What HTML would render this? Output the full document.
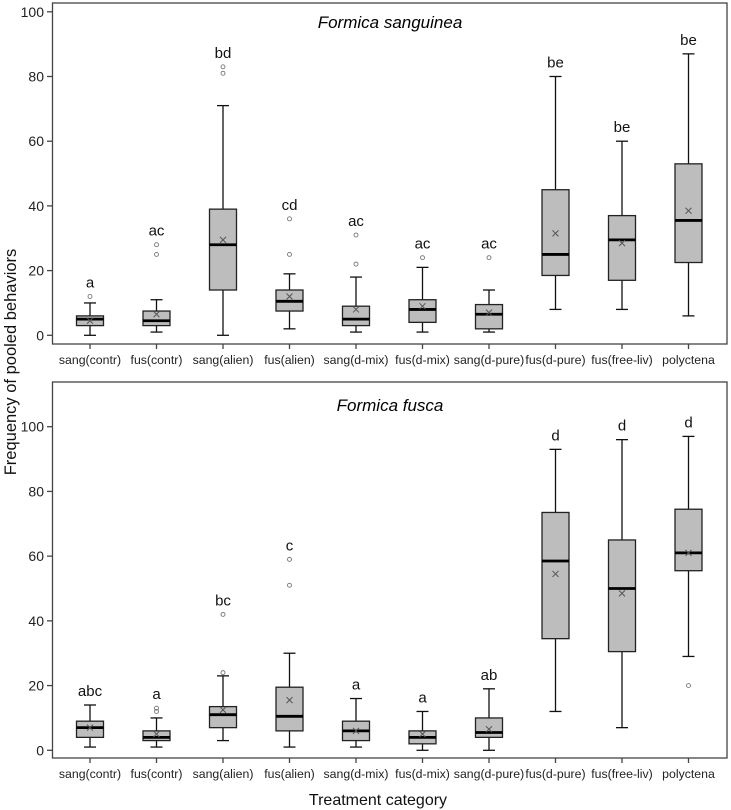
<!DOCTYPE html>
<html><head><meta charset="utf-8"><style>
body{margin:0;background:#fff;}
svg{display:block;font-family:"Liberation Sans",Arial,sans-serif;}
</style></head><body>
<svg id="chart" width="731" height="810"></svg>
<script>
const categories=["sang(contr)","fus(contr)","sang(alien)","fus(alien)","sang(d-mix)","fus(d-mix)","sang(d-pure)","fus(d-pure)","fus(free-liv)","polyctena"];
const yTicks=[0,20,40,60,80,100];
// top panel: Formica sanguinea
const sangMin=[0,1,0,2,1,1,1,8,8,6];
const sangQ1=[3,3,14,7.5,3,4,2,18.5,17,22.5];
const sangMed=[5,4.5,28,10.5,5,8,6.5,25,29.5,35.5];
const sangQ3=[6,7.5,39,14,9,11,9.5,45,37,53];
const sangMax=[10,11,71,19,18,21,14,80,60,87];
const sangMean=[4.5,6.5,29.5,12,8,9,7,31.5,28.5,38.5];
const sangOut=[[12],[25,28],[81,83],[25,36],[22,31],[24],[24],[],[],[]];
const sangLetters=["a","ac","bd","cd","ac","ac","ac","be","be","be"];
// bottom panel: Formica fusca
const fuscMin=[1,1,3,1,1,0,0,12,7,29];
const fuscQ1=[4,3,7,6,3,2,4,34.5,30.5,55.5];
const fuscMed=[7,4,11,10.5,6,4,5.5,58.5,50,61];
const fuscQ3=[9,6,13.5,19.5,9,6,10,73.5,65,74.5];
const fuscMax=[14,10,23,30,16,12,19,93,96,97];
const fuscMean=[7,5,12.5,15.5,6,5,6.5,54.5,48.5,61];
const fuscOut=[[],[12,13],[24,42],[51,59],[],[],[],[],[],[20]];
const fuscLetters=["abc","a","bc","c","a","a","ab","d","d","d"];

const svg=document.getElementById('chart');
const NS="http://www.w3.org/2000/svg";
function mk(tag,attrs,parent){const e=document.createElementNS(NS,tag);for(const k in attrs)e.setAttribute(k,attrs[k]);(parent||svg).appendChild(e);return e;}
const xScale=i=>90+i*66.5;
const BW=27;

function panel(p){
  const g=mk('g',{});
  
  
  const y=v=>p.y0-v*p.k;
  const fr=mk('rect',{x:52.5,y:p.top,width:674.5,height:p.bottom-p.top,fill:'none',stroke:'#444','stroke-width':1.3},g);
  
  
  yTicks.forEach(t=>{
    mk('line',{x1:47,x2:52.5,y1:y(t),y2:y(t),stroke:'#444','stroke-width':1.3},g);
    const tx=mk('text',{x:44,y:y(t)+5,'text-anchor':'end','font-size':14,fill:'#222'},g);
    tx.textContent=t;
    
    
  });
  categories.forEach((c,i)=>{
    const x=xScale(i);
    mk('line',{x1:x,x2:x,y1:p.bottom,y2:p.bottom+5,stroke:'#444','stroke-width':1.3},g);
    const tl=mk('text',{x:x,y:p.bottom+20,'text-anchor':'middle','font-size':12.3,fill:'#222'},g);
    tl.textContent=c;
    
    
    const bx=mk('g',{},g);
    
    
    mk('line',{x1:x,x2:x,y1:y(p.max[i]),y2:y(p.q3[i]),stroke:'#111','stroke-width':1.3},bx);
    mk('line',{x1:x,x2:x,y1:y(p.q1[i]),y2:y(p.min[i]),stroke:'#111','stroke-width':1.3},bx);
    mk('line',{x1:x-6,x2:x+6,y1:y(p.max[i]),y2:y(p.max[i]),stroke:'#111','stroke-width':1.3},bx);
    mk('line',{x1:x-6,x2:x+6,y1:y(p.min[i]),y2:y(p.min[i]),stroke:'#111','stroke-width':1.3},bx);
    mk('rect',{x:x-BW/2,y:y(p.q3[i]),width:BW,height:y(p.q1[i])-y(p.q3[i]),fill:'#bdbdbd',stroke:'#222','stroke-width':1.3},bx);
    mk('line',{x1:x-BW/2,x2:x+BW/2,y1:y(p.med[i]),y2:y(p.med[i]),stroke:'#000','stroke-width':2.8},bx);
    const my=y(p.mean[i]);
    mk('path',{d:`M${x-3},${my-3}L${x+3},${my+3}M${x-3},${my+3}L${x+3},${my-3}`,stroke:'#555','stroke-width':1},bx);
    p.out[i].forEach(o=>{
      const oc=mk('circle',{cx:x,cy:y(o),r:2,fill:'none',stroke:'#777','stroke-width':0.9},bx);
      
      
    });
    const top=Math.max(p.max[i],...p.out[i]);
    const lt=mk('text',{x:x,y:y(top)-9,'text-anchor':'middle','font-size':15,fill:'#111'},bx);
    lt.textContent=p.letters[i];
    
    
  });
  const ti=mk('text',{x:390,y:p.titleY,'text-anchor':'middle','font-size':17,'font-style':'italic',fill:'#000'},g);
  ti.textContent=p.title;
  
  
}
panel({name:'panel-sanguinea',title:'Formica sanguinea',titleY:28,top:3,bottom:344,y0:335.3,k:3.235,
  min:sangMin,q1:sangQ1,med:sangMed,q3:sangQ3,max:sangMax,mean:sangMean,out:sangOut,letters:sangLetters});
panel({name:'panel-fusca',title:'Formica fusca',titleY:411,top:382,bottom:758,y0:750.3,k:3.236,
  min:fuscMin,q1:fuscQ1,med:fuscMed,q3:fuscQ3,max:fuscMax,mean:fuscMean,out:fuscOut,letters:fuscLetters});
const yt=mk('text',{x:0,y:0,'text-anchor':'middle','font-size':16.5,fill:'#111',transform:'translate(16,362) rotate(-90)'});
yt.textContent='Frequency of pooled behaviors';


const xt=mk('text',{x:378,y:805,'text-anchor':'middle','font-size':16,fill:'#111'});
xt.textContent='Treatment category';


</script>
</body></html>
